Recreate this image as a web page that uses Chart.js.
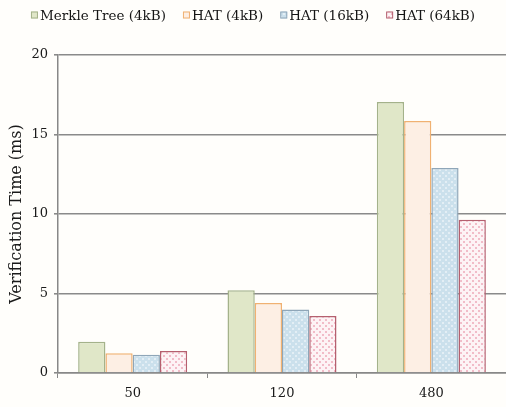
<!DOCTYPE html>
<html>
<head>
<meta charset="utf-8">
<script src="https://cdn.jsdelivr.net/npm/chart.js@4/dist/chart.umd.min.js"></script>
<style>
  html, body { margin: 0; padding: 0; background: #fffefb; }
  #wrap { width: 506px; height: 407px; }
</style>
</head>
<body>
<div id="wrap"><canvas id="c" width="506" height="407"></canvas></div>
<script>
// Verification time per file count, for each scheme / block size
const categories = ['50', '120', '480'];
const seriesNames = ['Merkle Tree (4kB)', 'HAT (4kB)', 'HAT (16kB)', 'HAT (64kB)'];
const merkle4 = [1.97, 5.2, 17.05];
const hat4 = [1.24, 4.4, 15.85];
const hat16 = [1.15, 4.0, 12.9];
const hat64 = [1.39, 3.58, 9.64];
const yTicks = [0, 5, 10, 15, 20];

// Small tiled fills for the patterned bars
function dotPattern(bg, dot) {
  const p = document.createElement('canvas');
  p.width = 6; p.height = 6;
  const g = p.getContext('2d');
  g.fillStyle = bg; g.fillRect(0, 0, 6, 6);
  g.fillStyle = dot;
  g.fillRect(1, 1, 2, 2);
  g.fillRect(4, 4, 2, 2);
  return g.createPattern(p, 'repeat');
}
const ctx = document.getElementById('c').getContext('2d');
const fills = [
  '#e0e7c8',
  '#fdefe4',
  dotPattern('#cbe0ec', '#e3eef5'),
  dotPattern('#fdf3f5', '#f1bcc8')
];
const borders = ['#a4b28a', '#f0b172', '#8fa6b8', '#b5606f'];
const values = [merkle4, hat4, hat16, hat64];

const serif = 'DejaVu Serif';

// Compact legend row: small square marker directly in front of each label
const compactLegend = {
  id: 'compactLegend',
  afterDraw(chart) {
    const g = chart.ctx;
    const font = '13.5px "' + serif + '"';
    const box = 7, gapText = 2, gapItem = 17, y = 15;
    g.save();
    g.font = font;
    g.textBaseline = 'middle';
    const items = chart.data.datasets.map(ds => ({
      ds, w: box + gapText + g.measureText(ds.label).width
    }));
    const total = items.reduce((s, it) => s + it.w, 0) + gapItem * (items.length - 1);
    let x = chart.width / 2 - total / 2;
    items.forEach(it => {
      g.fillStyle = it.ds.backgroundColor;
      g.fillRect(x, y - box / 2, box, box);
      g.strokeStyle = it.ds.borderColor;
      g.lineWidth = 1;
      g.strokeRect(x + 0.5, y - box / 2 + 0.5, box - 1, box - 1);
      g.fillStyle = '#151515';
      g.fillText(it.ds.label, x + box + gapText, y + 1);
      x += it.w + gapItem;
    });
    g.restore();
  }
};

new Chart(ctx, {
  type: 'bar',
  data: {
    labels: categories,
    datasets: seriesNames.map((name, i) => ({
      label: name,
      data: values[i],
      backgroundColor: fills[i],
      borderColor: borders[i],
      borderWidth: 1.5
    }))
  },
  plugins: [compactLegend],
  options: {
    responsive: false,
    animation: false,
    layout: { padding: { top: 55, right: 0, left: 4, bottom: -2 } },
    datasets: { bar: { barPercentage: 1, categoryPercentage: 0.73 } },
    plugins: {
      legend: { display: false },
      tooltip: { enabled: false }
    },
    scales: {
      x: {
        grid: {
          drawOnChartArea: false,
          drawTicks: true,
          tickLength: 5,
          color: '#888',
          offset: true
        },
        border: { color: '#888', width: 1.5 },
        ticks: { color: '#1a1a1a', font: { family: serif, size: 13, lineHeight: 1 }, padding: 9 }
      },
      y: {
        min: 0,
        max: 20,
        afterBuildTicks: s => { s.ticks = yTicks.map(v => ({ value: v })); },
        afterFit: s => { s.width = 54; },
        grid: { color: '#8a8a8a', lineWidth: 1.6, tickLength: 4 },
        border: { color: '#888', width: 1.5 },
        ticks: { color: '#1a1a1a', font: { family: serif, size: 13 }, padding: 6 },
        title: {
          display: true,
          text: 'Verification Time (ms)',
          color: '#1a1a1a',
          font: { family: serif, size: 16 },
          padding: { top: 3, bottom: 2 }
        }
      }
    }
  }
});
</script>
</body>
</html>
